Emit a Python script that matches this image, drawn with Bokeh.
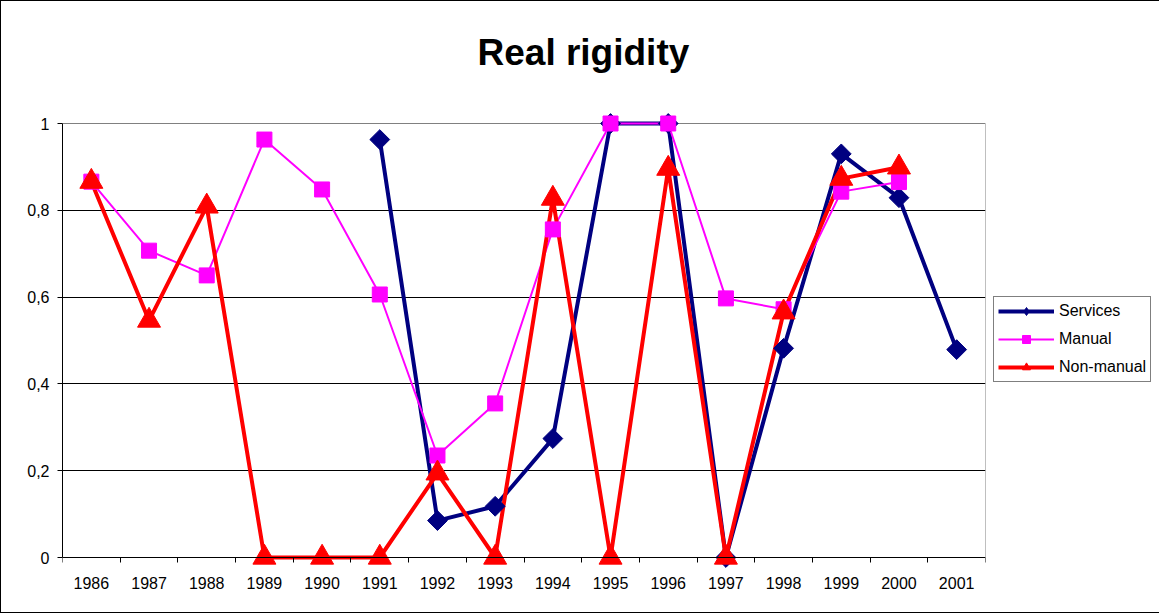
import numpy as np
from bokeh.plotting import figure
from bokeh.models import (Range1d, FixedTicker, Legend, LegendItem, ColumnDataSource,
                          LinearAxis, Grid)
from bokeh.embed import file_html
from bokeh.resources import INLINE

nan = np.nan
years = ["1986", "1987", "1988", "1989", "1990", "1991", "1992", "1993",
         "1994", "1995", "1996", "1997", "1998", "1999", "2000", "2001"]
services = [nan, nan, nan, nan, nan, 0.963, 0.085, 0.118, 0.274, 1.0, 1.0,
            0.0, 0.482, 0.930, 0.829, 0.479]
manual = [0.866, 0.707, 0.650, 0.963, 0.848, 0.606, 0.235, 0.355, 0.756,
          1.0, 1.0, 0.597, 0.572, 0.843, 0.865, nan]
non_manual = [0.866, 0.546, 0.809, 0.0, 0.0, 0.0, 0.194, 0.0, 0.827, 0.0,
              0.896, 0.0, 0.565, 0.873, 0.899, nan]
y_ticks = [0, 0.2, 0.4, 0.6, 0.8, 1]
y_labels = ["0", "0,2", "0,4", "0,6", "0,8", "1"]

FONT = "Liberation Sans"
xpos = list(range(1, len(years) + 1))
x_lo, x_hi = 0.5, len(years) + 0.5
y_lo, y_hi = y_ticks[0], y_ticks[-1]

# plot area: 434 px per unit; frame padded above/below so markers are not clipped
PX = 434.0
PAD_TOP, PAD_BOTTOM = 26, 45
p = figure(frame_width=923, frame_height=int(PX) + PAD_TOP + PAD_BOTTOM,
           output_backend="svg", toolbar_location=None, x_axis_location=None,
           x_range=Range1d(x_lo, x_hi),
           y_range=Range1d(y_lo - PAD_BOTTOM / PX, y_hi + PAD_TOP / PX),
           min_border_left=61, min_border_right=173, min_border_top=96,
           min_border_bottom=10)
p.styles = {"border": "1px solid #000000"}
p.background_fill_color = "white"
p.border_fill_color = "white"
p.outline_line_color = None

# Title
p.title.text = "Real rigidity"
p.title.text_font = FONT
p.title.text_font_size = "37px"
p.title.text_font_style = "bold"
p.title.text_color = "black"
p.title.align = "left"
p.title.offset = 415
p.title.standoff = 50

# X axis at y = 0
xa = LinearAxis(fixed_location=y_lo)
xa.ticker = FixedTicker(ticks=xpos, minor_ticks=[x - 0.5 for x in xpos] + [x_hi])
xa.major_label_overrides = {x: y for x, y in zip(xpos, years)}
xa.major_tick_out = 0
xa.major_tick_in = 0
xa.minor_tick_out = 5
xa.minor_tick_in = 0
xa.minor_tick_line_color = "black"
xa.axis_line_color = "black"
xa.major_label_standoff = 14
xa.major_label_text_font = FONT
xa.major_label_text_font_size = "16px"
xa.major_label_text_color = "black"
p.add_layout(xa, "below")

ya = p.yaxis[0]
ya.bounds = (y_lo, y_hi)
ya.ticker = FixedTicker(ticks=y_ticks, minor_ticks=[])
ya.major_label_overrides = {t: l for t, l in zip(y_ticks, y_labels)}
ya.major_tick_out = 5
ya.major_tick_in = 0
ya.major_tick_line_color = "black"
ya.axis_line_color = "black"
ya.major_label_standoff = 8
ya.major_label_text_font = FONT
ya.major_label_text_font_size = "16px"
ya.major_label_text_color = "black"

p.xgrid.visible = False
p.ygrid.ticker = FixedTicker(ticks=y_ticks[1:-1], minor_ticks=[])
p.ygrid.grid_line_color = "black"
p.ygrid.grid_line_width = 1
# gray plot-area border: top and right
p.add_layout(Grid(dimension=1, ticker=FixedTicker(ticks=[y_hi], minor_ticks=[]),
                  grid_line_color="#808080", grid_line_width=1))
p.segment(x0=[x_hi], y0=[y_lo], x1=[x_hi], y1=[y_hi], line_color="#808080", line_width=1)

src = ColumnDataSource(dict(x=xpos, s=services, m=manual, n=non_manual))

ls = p.line("x", "s", source=src, line_color="#000080", line_width=4)
lm = p.line("x", "m", source=src, line_color="#FF00FF", line_width=2)
ln = p.line("x", "n", source=src, line_color="#FF0000", line_width=4)
ms = p.scatter("x", "s", source=src, marker="square", angle=np.pi / 4, size=14,
               fill_color="#000080", line_color="#000080")
mm = p.scatter("x", "m", source=src, marker="square", size=15,
               fill_color="#FF00FF", line_color="#FF00FF")
mn = p.scatter("x", "n", source=src, marker="triangle", size=23,
               fill_color="#FF0000", line_color="#FF0000")
# legend-only diamond glyph for the Services key
ms_key = p.scatter("x", "s", source=src, marker="diamond", size=14,
                   fill_color="#000080", line_color="#000080", visible=False)

legend = Legend(items=[
    LegendItem(label="Services", renderers=[ls, ms_key]),
    LegendItem(label="Manual", renderers=[lm, mm]),
    LegendItem(label="Non-manual", renderers=[ln, mn]),
], location=(8, 220))
legend.label_text_font = FONT
legend.label_text_font_size = "16px"
legend.label_text_color = "black"
legend.glyph_width = 56
legend.glyph_height = 20
legend.label_height = 20
legend.spacing = 8
legend.padding = 4
legend.margin = 0
legend.label_standoff = 5
legend.border_line_color = "black"
legend.border_line_width = 1
legend.background_fill_color = "white"
legend.background_fill_alpha = 1
p.add_layout(legend, "right")

open("out.html", "w").write(file_html(p, INLINE))
